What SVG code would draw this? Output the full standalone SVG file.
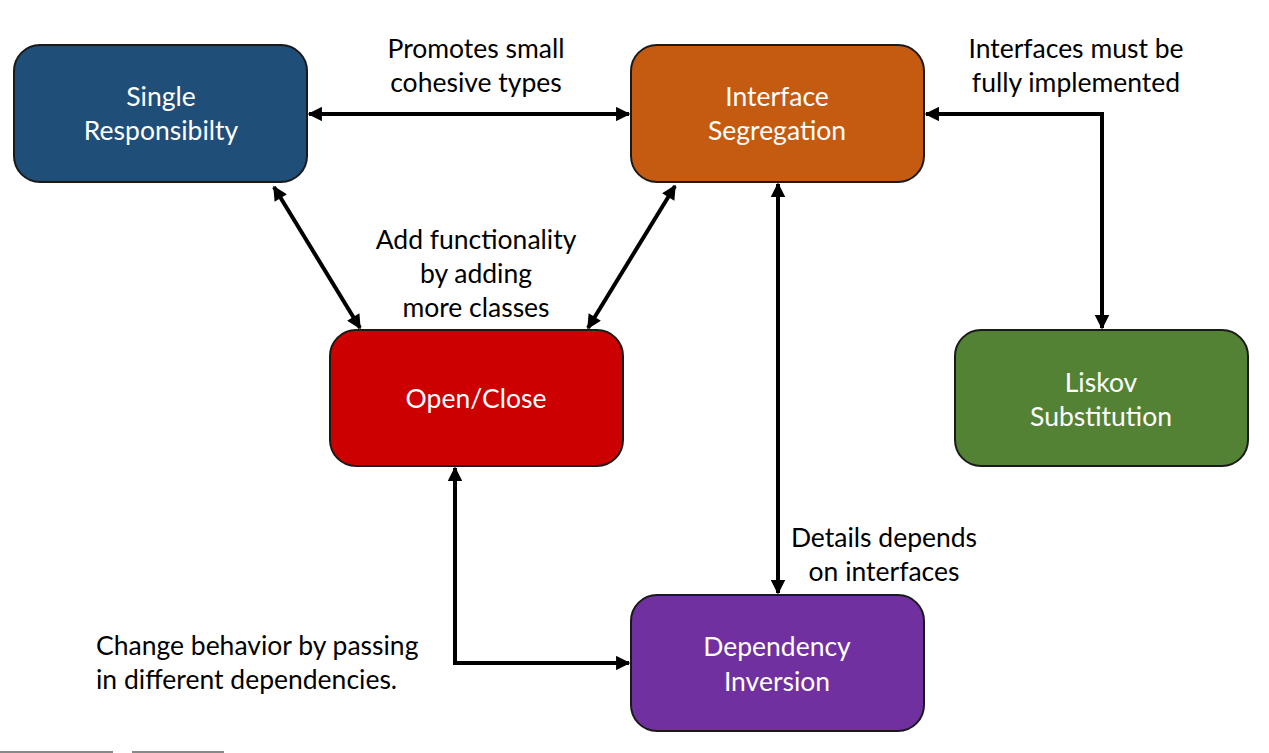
<svg xmlns="http://www.w3.org/2000/svg" width="1269" height="753" viewBox="0 0 1269 753">
<style>
.node{stroke:#1a1a1a;stroke-width:2}
.nt{font-family:Lato,"Open Sans",sans-serif;font-size:26.5px;fill:#ffffff;text-anchor:middle}
.lb{font-family:Lato,"Open Sans",sans-serif;font-size:26.5px;fill:#000000;text-anchor:middle}
.cn{fill:none;stroke:#000;stroke-width:4}
</style>
<defs>
<marker id="ah" viewBox="0 0 10 10" refX="9" refY="5" markerWidth="4" markerHeight="3.6" orient="auto-start-reverse" markerUnits="strokeWidth">
<path d="M0,0 L10,5 L0,10 z" fill="#000"/>
</marker>
</defs>
<rect width="1269" height="753" fill="#ffffff"/>
<g id="connectors">
<line class="cn" x1="309" y1="114" x2="629" y2="114" marker-start="url(#ah)" marker-end="url(#ah)"/>
<line class="cn" x1="274" y1="187" x2="360" y2="328" marker-start="url(#ah)" marker-end="url(#ah)"/>
<line class="cn" x1="675" y1="186" x2="588" y2="328" marker-start="url(#ah)" marker-end="url(#ah)"/>
<line class="cn" x1="778" y1="184" x2="778" y2="593" marker-start="url(#ah)" marker-end="url(#ah)"/>
<polyline class="cn" points="926,114 1102,114 1102,328" marker-start="url(#ah)" marker-end="url(#ah)"/>
<polyline class="cn" points="455,468 455,663 629,663" marker-start="url(#ah)" marker-end="url(#ah)"/>
</g>
<g id="labels">
<text class="lb" x="476" y="58">Promotes small</text>
<text class="lb" x="476" y="92">cohesive types</text>
<text class="lb" x="1076" y="58">Interfaces must be</text>
<text class="lb" x="1076" y="92">fully implemented</text>
<text class="lb" x="476" y="249">Add functionality</text>
<text class="lb" x="476" y="283">by adding</text>
<text class="lb" x="476" y="317">more classes</text>
<text class="lb" x="884" y="547">Details depends</text>
<text class="lb" x="884" y="581">on interfaces</text>
<text class="lb" x="96" y="655" style="text-anchor:start">Change behavior by passing</text>
<text class="lb" x="96" y="689" style="text-anchor:start">in different dependencies.</text>
</g>
<g id="single-responsibility">
<rect class="node" x="14" y="45" width="293" height="137" rx="26" fill="#1f4e79"/>
<text class="nt" x="161" y="106">Single</text>
<text class="nt" x="161" y="140">Responsibilty</text>
</g>
<g id="interface-segregation">
<rect class="node" x="631" y="45" width="293" height="137" rx="26" fill="#c55a11"/>
<text class="nt" x="777" y="106">Interface</text>
<text class="nt" x="777" y="140">Segregation</text>
</g>
<g id="open-close">
<rect class="node" x="330" y="330" width="293" height="136" rx="26" fill="#cc0000"/>
<text class="nt" x="476" y="408">Open/Close</text>
</g>
<g id="liskov-substitution">
<rect class="node" x="955" y="330" width="293" height="136" rx="26" fill="#548235"/>
<text class="nt" x="1101" y="392">Liskov</text>
<text class="nt" x="1101" y="426">Substitution</text>
</g>
<g id="dependency-inversion">
<rect class="node" x="631" y="595" width="293" height="136" rx="26" fill="#7030a0"/>
<text class="nt" x="777" y="656">Dependency</text>
<text class="nt" x="777" y="691">Inversion</text>
</g>
<g id="edge-marks">
<line x1="0" y1="752" x2="113" y2="752" stroke="#888" stroke-width="2"/>
<line x1="132" y1="752" x2="224" y2="752" stroke="#888" stroke-width="2"/>
</g>
</svg>
